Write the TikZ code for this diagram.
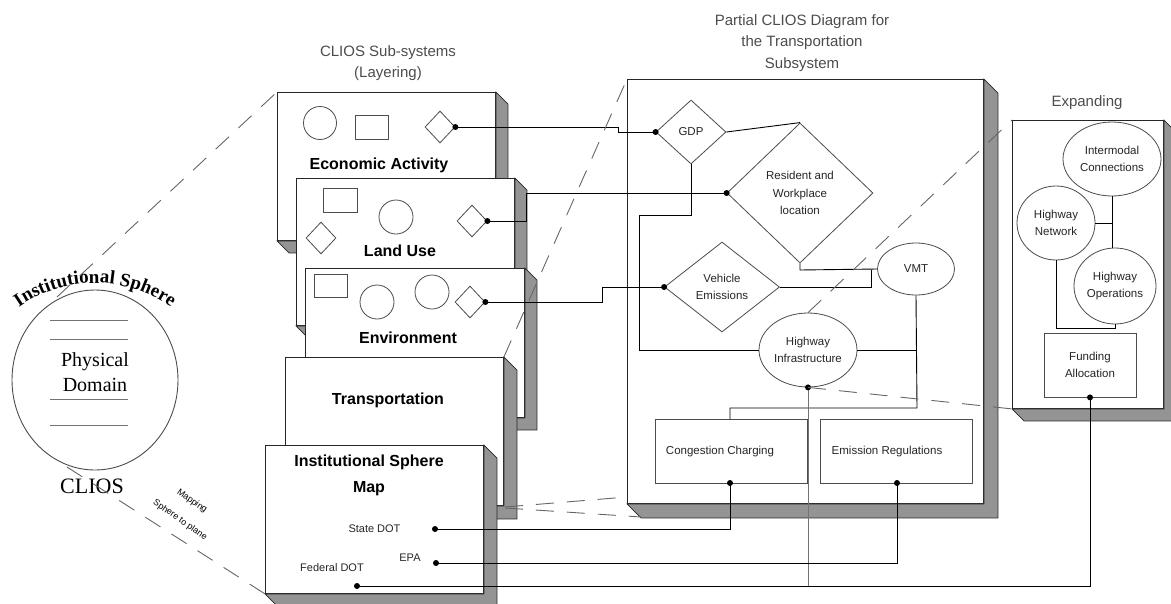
\documentclass[tikz,border=0pt]{standalone}
\usepackage{fontspec}
\setmainfont{Liberation Sans}
\newfontfamily\serifc{Liberation Serif}
\usetikzlibrary{shapes.geometric,decorations.text,calc}
\tikzset{
  panel/.style={draw=black!85, fill=white, line width=0.9pt, inner sep=0pt, anchor=north west},
  shade/.style={fill=black!42, draw=black!85, line width=0.8pt},
  conn/.style={draw=black, line width=0.9pt},
  thinconn/.style={draw=black!55, line width=0.7pt},
  dashln/.style={draw=black!60, line width=0.9pt, dash pattern=on 18pt off 13pt},
  shp/.style={draw=black!70, line width=0.8pt, fill=white, inner sep=0pt},
  dot/.style={circle, fill=black, inner sep=0pt, minimum size=6pt},
  lbl/.style={font=\fontsize{11.5}{17.5}\selectfont, text=black!85, align=center},
  ttl/.style={font=\fontsize{15}{21.5}\selectfont, text=black!70, align=center},
  big/.style={font=\bfseries\fontsize{16}{26}\selectfont, align=center},
  sml/.style={font=\fontsize{11}{13}\selectfont, text=black!85},
}
\newcommand{\boxshade}[2]{\filldraw[shade] (#1.north east) -- ++(#2,#2) -- ($(#1.south east)+(#2,#2)$) -- ($(#1.south west)+(#2,#2)$) -- (#1.south west) -- (#1.south east) -- cycle;}
\begin{document}
\begin{tikzpicture}[x=1pt,y=-1pt]
\useasboundingbox (0,0) rectangle (1171,603);
\clip (0,0) rectangle (1171,603);

% ---------- left sphere ----------
\draw[black!70, line width=0.9pt] (95,380) ellipse [x radius=83, y radius=90];
\node[coordinate] (sph) at (95,380) {};
\foreach \yy in {320,339,399,425} \draw[black!55, line width=0.9pt] (50,\yy) -- (128,\yy);
\node[font=\serifc\fontsize{20}{25}\selectfont, align=center] (phys) at (95,372) {Physical\\Domain};
\node[font=\serifc\fontsize{22}{24}\selectfont] (clios) at (92,486) {CLIOS};
\begin{scope}[y=1pt]
\path[decorate, decoration={text along path, text align=center,
  text={|\serifc\bfseries\fontsize{19}{19}\selectfont|Institutional Sphere}}]
  (-19.3,-349) arc[start angle=150, end angle=30, radius=132];
\end{scope}
\node[rotate=-35, font=\fontsize{9}{10}\selectfont] (map1) at (192,501) {Mapping};
\node[rotate=-35, font=\fontsize{9}{10}\selectfont] (map2) at (180,520) {Sphere to plane};

% ---------- titles ----------
\node[ttl] (t1) at (388,63) {CLIOS Sub-systems\\(Layering)};
\node[ttl] (t2) at (802,43) {Partial CLIOS Diagram for\\the Transportation\\Subsystem};
\node[ttl] (t3) at (1087,103) {Expanding};

% ---------- layer boxes ----------
\node[panel, minimum width=218pt, minimum height=148pt] (eco) at (277,92) {};
\boxshade{eco}{12}
\node[shp, circle, minimum size=33pt] (ec1) at (320,123) {};
\node[shp, rectangle, minimum width=33pt, minimum height=24pt] (er1) at (372,127) {};
\node[shp, diamond, minimum width=30pt, minimum height=32pt] (ed1) at (440,127) {};
\node[big] (etx) at (379,165) {Economic Activity};

\node[panel, minimum width=218pt, minimum height=147pt] (lu) at (296,178) {};
\boxshade{lu}{12}
\node[shp, rectangle, minimum width=34pt, minimum height=24pt] (lr1) at (340,200) {};
\node[shp, circle, minimum size=34pt] (lc1) at (396,217) {};
\node[shp, diamond, minimum width=30pt, minimum height=32pt] (ld1) at (321,238) {};
\node[shp, diamond, minimum width=30pt, minimum height=32pt] (ld2) at (472,221) {};
\node[big] (ltx) at (400,251) {Land Use};

\node[panel, minimum width=219pt, minimum height=149pt] (env) at (305,268) {};
\boxshade{env}{12}
\node[shp, rectangle, minimum width=33pt, minimum height=23pt] (vr1) at (331,286) {};
\node[shp, circle, minimum size=34pt] (vc1) at (377,302) {};
\node[shp, circle, minimum size=34pt] (vc2) at (432,292) {};
\node[shp, diamond, minimum width=30pt, minimum height=32pt] (vd1) at (470,302) {};
\node[big] (vtx) at (408,338) {Environment};

\node[panel, minimum width=218pt, minimum height=148pt] (trn) at (285,357) {};
\boxshade{trn}{13}
\node[big] (ttx) at (388,400) {Transportation};

\node[panel, minimum width=218pt, minimum height=148pt] (ism) at (265,445) {};
\boxshade{ism}{13}
\node[big] (itx) at (369,475) {Institutional Sphere\\Map};
\node[sml, anchor=east] (sdt) at (404,529) {State DOT};
\node[sml] (epat) at (410,558) {EPA};
\node[sml] (fdt) at (332,568) {Federal DOT};

% ---------- big panel ----------
\node[panel, minimum width=356pt, minimum height=424pt] (pan) at (627,79) {};
\boxshade{pan}{14}
\node[shp, diamond, minimum width=70pt, minimum height=64pt, label={[lbl]center:GDP}] (gdp) at (691,132) {};
\node[shp, diamond, minimum width=146pt, minimum height=140pt, label={[lbl]center:{Resident and\\Workplace\\location}}] (res) at (800,193) {};
\node[shp, diamond, minimum width=115pt, minimum height=90pt, label={[lbl]center:{Vehicle\\Emissions}}] (veh) at (722,287) {};
\node[shp, ellipse, minimum width=77pt, minimum height=52pt, label={[lbl]center:VMT}] (vmt) at (916,269) {};
\node[shp, ellipse, minimum width=98pt, minimum height=74pt, label={[lbl]center:{Highway\\Infrastructure}}] (hwy) at (808,350) {};
\node[shp, rectangle, minimum width=152pt, minimum height=64pt] (cc) at (731,451) {};
\node[lbl] (cctx) at (720,452) {Congestion Charging};
\node[shp, rectangle, minimum width=152pt, minimum height=64pt] (er) at (896,451) {};
\node[lbl] (ertx) at (887,452) {Emission Regulations};

% ---------- expanding panel ----------
\node[panel, minimum width=151pt, minimum height=288pt] (exp) at (1012,120) {};
\boxshade{exp}{12}
\node[shp, ellipse, minimum width=98pt, minimum height=74pt, label={[lbl]center:{Intermodal\\Connections}}] (im) at (1112,159) {};
\node[shp, ellipse, minimum width=78pt, minimum height=74pt, label={[lbl]center:{Highway\\Network}}] (hn) at (1056,223) {};
\node[shp, ellipse, minimum width=82pt, minimum height=76pt, label={[lbl]center:{Highway\\Operations}}] (ho) at (1115,286) {};
\node[shp, rectangle, minimum width=92pt, minimum height=64pt, label={[lbl]center:{Funding\\Allocation}}] (fa) at (1090,365) {};

% ---------- connectors ----------
\draw[conn] (ed1.east) -- (618,127) -- (618,132) -- (gdp.west);
\draw[conn] (ld2.east) -- (526,221) -- (526,193) -- (res.west);
\draw[conn] (vd1.east) -- (602,302) -- (602,287) -- (veh.west);
\draw[conn] (gdp.east) -- (res.north);
\draw[conn] (gdp.south) -- (691,215) -- (639,215) -- (639,350) -- (hwy.west);
\draw[conn] (hwy.east) -- (917,350);
\draw[conn] (vmt.south) -- (917,408) -- (730,408) -- (730,419);
\draw[conn] (res.south) -- (800,270) -- (vmt.west);
\draw[conn] (veh.east) -- (871,287) -- (871,270);
\draw[thinconn] (hwy.south) -- (808,586);
\draw[conn] (730,483) -- (730,529) -- (435,529);
\draw[conn] (897,483) -- (897,563) -- (436,563);
\draw[conn] (357,586) -- (1090,586) -- (fa.south);
\draw[conn] (im.south) -- (im.south |- ho.north);
\draw[conn] (hn.east) -- (im.south |- hn.east);
\draw[conn] (hn.south) -- (1056,328) -- (1115,328) -- (ho.south);

% ---------- dots ----------
\node[dot] (d1) at (ed1.east) {};
\node[dot] (d2) at (gdp.west) {};
\node[dot] (d3) at (ld2.east) {};
\node[dot] (d4) at (res.west) {};
\node[dot] (d5) at (vd1.east) {};
\node[dot] (d6) at (veh.west) {};
\node[dot] (d7) at (hwy.south) {};
\node[dot] (d8) at (730,483) {};
\node[dot] (d9) at (897,483) {};
\node[dot] (d10) at (435,529) {};
\node[dot] (d11) at (436,563) {};
\node[dot] (d12) at (357,586) {};
\node[dot] (d13) at (fa.south) {};

% ---------- dashed mapping lines ----------
\draw[dashln] (57,297) -- (eco.north west);
\draw[dashln] (67,467) -- (ism.south west);
\draw[dashln] (trn.north east) -- (pan.north west);
\draw[dashln] (505,507) -- (627,497);
\draw[dashln] (505,508) -- (641,517);
\draw[dashln] (hwy.north) -- (exp.north west);
\draw[dashln] (hwy.south) -- (exp.south west);
\end{tikzpicture}
\end{document}
